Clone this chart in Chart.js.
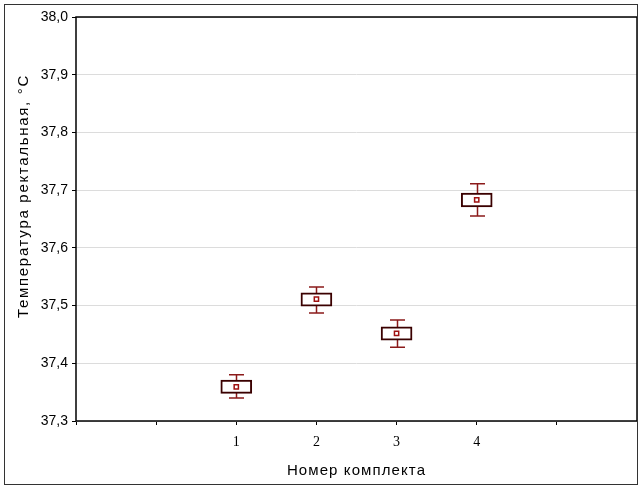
<!DOCTYPE html>
<html>
<head>
<meta charset="utf-8">
<script src="https://cdn.jsdelivr.net/npm/chart.js@4"></script>
<style>
  html, body { margin: 0; padding: 0; background: #fff; }
  #wrap { width: 638px; height: 485px; }
</style>
</head>
<body>
<div id="wrap"><canvas id="grafico"></canvas></div>
<script>
const komplekty = [1, 2, 3, 4];
const srednie = [37.359, 37.511, 37.452, 37.683];
const boxNiz = [37.348, 37.499, 37.440, 37.671];
const boxVerh = [37.371, 37.522, 37.463, 37.695];
const usNiz = [37.340, 37.487, 37.428, 37.655];
const usVerh = [37.380, 37.532, 37.475, 37.711];
const tituloX = "Номер комплекта";
const tituloY = "Температура ректальная, °С";

// усы рисуем под боксами, рамки и подписи осей — после
const usyPlugin = {
  id: "usy",
  beforeDatasetsDraw(chart) {
    const { ctx, scales: { x, y } } = chart;
    ctx.save();
    ctx.strokeStyle = "#8b1a1a";
    ctx.lineWidth = 1.5;
    komplekty.forEach((k, i) => {
      const px = Math.round(x.getPixelForValue(k)) + 0.5;
      const top = y.getPixelForValue(usVerh[i]);
      const bot = y.getPixelForValue(usNiz[i]);
      const cap = 7.5;
      ctx.beginPath();
      ctx.moveTo(px, top); ctx.lineTo(px, bot);
      ctx.moveTo(px - cap, top); ctx.lineTo(px + cap, top);
      ctx.moveTo(px - cap, bot); ctx.lineTo(px + cap, bot);
      ctx.stroke();
    });
    ctx.restore();
  },
  afterDraw(chart) {
    const { ctx, chartArea: a } = chart;
    ctx.save();
    ctx.strokeStyle = "#000";
    ctx.lineWidth = 1.5;
    ctx.strokeRect(a.left, a.top, a.right - a.left, a.bottom - a.top);
    ctx.strokeStyle = "#333";
    ctx.lineWidth = 1;
    ctx.strokeRect(4.5, 4.5, 633, 480);

    ctx.fillStyle = "#000";
    ctx.font = "15px 'Liberation Sans'";
    ctx.textAlign = "center";
    ctx.textBaseline = "alphabetic";
    ctx.letterSpacing = "1.1px";
    ctx.fillText(tituloX, (a.left + a.right) / 2, 475);

    ctx.letterSpacing = "1.7px";
    ctx.translate(28, 196);
    ctx.rotate(-Math.PI / 2);
    ctx.fillText(tituloY, 0, 0);
    ctx.restore();
  }
};

const ctx = document.getElementById("grafico").getContext("2d");
new Chart(ctx, {
  data: {
    datasets: [
      {
        type: "bar",
        data: komplekty.map((k, i) => ({ x: k, y: [boxNiz[i], boxVerh[i]] })),
        backgroundColor: "#ffffff",
        borderColor: "#3a0000",
        borderWidth: 2,
        borderSkipped: false,
        barThickness: 31,
        order: 2
      },
      {
        type: "scatter",
        data: komplekty.map((k, i) => ({ x: k, y: srednie[i] })),
        pointStyle: "rect",
        pointRadius: 3,
        pointBorderWidth: 1.5,
        pointBackgroundColor: "#ffffff",
        pointBorderColor: "#a01010",
        order: 1
      }
    ]
  },
  options: {
    responsive: true,
    maintainAspectRatio: false,
    animation: false,
    layout: { autoPadding: false, padding: { left: 0, top: 17, right: 1, bottom: 0 } },
    plugins: { legend: { display: false }, tooltip: { enabled: false } },
    scales: {
      x: {
        type: "linear",
        min: -1,
        max: 6,
        offset: false,
        afterFit: s => { s.height = 64; s.paddingLeft = 0; s.paddingRight = 0; },
        grid: { offset: false, drawOnChartArea: false, tickLength: 4, color: "#000" },
        border: { display: false },
        ticks: {
          stepSize: 1,
          padding: 9,
          maxRotation: 0,
          color: "#000",
          font: { family: "Liberation Serif", size: 14 },
          callback: v => (komplekty.includes(v) ? String(v) : "")
        }
      },
      y: {
        min: 37.3,
        max: 38.0,
        afterFit: s => { s.width = 76; s.paddingTop = 0; s.paddingBottom = 0; },
        grid: { color: "#dcdcdc", tickColor: "#000", tickLength: 4 },
        border: { display: false },
        ticks: {
          stepSize: 0.1,
          padding: 4,
          color: "#000",
          font: { family: "Liberation Sans", size: 14 },
          callback: v => v.toFixed(1).replace(".", ",")
        }
      }
    }
  },
  plugins: [usyPlugin]
});
</script>
</body>
</html>
